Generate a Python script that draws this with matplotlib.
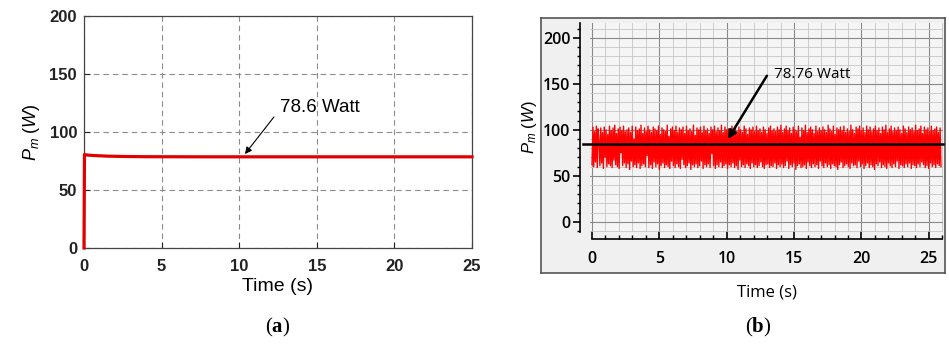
import numpy as np
import matplotlib.pyplot as plt
from matplotlib.ticker import MultipleLocator

plt.rcParams['font.family'] = ['Liberation Sans', 'DejaVu Sans']
plt.rcParams['mathtext.fontset'] = 'custom'
plt.rcParams['mathtext.rm'] = 'Liberation Sans'
plt.rcParams['mathtext.it'] = 'Liberation Sans:italic'
plt.rcParams['mathtext.bf'] = 'Liberation Serif:bold'

# (a) simulated mechanical power
time_a = [0, 0.03, 0.08, 0.3, 0.8, 1.5, 2.5, 4, 8, 15, 25]
power_a = [0, 80.6, 80.4, 80.0, 79.6, 79.2, 78.9, 78.7, 78.6, 78.6, 78.6]

power_b = [
    62, 103, 60, 98, 65, 104, 59, 101, 88, 61, 102, 64, 97, 58, 103, 70, 100, 60, 95, 63,
    104, 61, 99, 59, 102, 67, 105, 62, 96, 60, 101, 58, 103, 75, 99, 61, 104, 64, 98, 59,
    100, 63, 102, 57, 97, 66, 104, 60, 90, 62, 103, 59, 99, 64, 101, 58, 105, 61, 96, 63,
    102, 60, 98, 72, 104, 59, 100, 62, 97, 58, 103, 65, 101, 60, 99, 63, 104, 57, 95, 61,
    102, 64, 100, 59, 98, 62, 105, 60, 93, 58, 101, 66, 103, 61, 99, 59, 104, 63, 97, 60,
    102, 58, 100, 68, 103, 62, 96, 59, 104, 61, 99, 64, 101, 57, 98, 62, 105, 60, 94, 63,
    102, 59, 100, 61, 103, 66, 97, 58, 104, 62, 99, 60, 101, 63, 96, 59, 103, 74, 100, 61,
    104, 58, 98, 62, 102, 60, 99, 65, 105, 59, 97, 61, 103, 63, 100, 58, 101, 62, 96, 60,
    104, 64, 99, 59, 102, 61, 98, 57, 103, 67, 100, 60, 97, 62, 104, 59, 101, 63, 95, 61,
    102, 58, 100, 64, 103, 60, 98, 62, 104, 59, 99, 61, 101, 65, 97, 60, 103, 58, 100, 62,
    96, 63, 102, 59, 104, 61, 99, 60, 101, 64, 98, 58, 103, 62, 100, 60, 105, 63, 97, 59,
    101, 61, 104, 66, 99, 58, 102, 62, 96, 60, 103, 64, 100, 57, 98, 61, 104, 63, 92, 59,
    102, 60, 99, 62, 105, 58, 97, 65, 101, 61, 103, 59, 100, 63, 96, 60, 104, 62, 98, 58,
    102, 66, 99, 61, 103, 59, 100, 64, 97, 60, 105, 62, 101, 58, 98, 63, 104, 61, 95, 60,
    102, 57, 100, 62, 103, 65, 99, 59, 104, 61, 97, 63, 101, 60, 98, 58, 105, 64, 100, 61,
    96, 62, 103, 59, 101, 66, 104, 60, 99, 63, 102, 58, 97, 61, 104, 64, 100, 59, 103, 62,
    98, 60, 101, 57, 104, 63, 99, 61, 102, 65, 96, 59, 103, 62, 100, 60, 105, 58, 97, 64,
    101, 61, 104, 59, 98, 63, 102, 60, 99, 66, 103, 58, 100, 62, 96, 61, 104, 59, 101, 63,
    97, 60, 103, 64, 100, 58, 102, 62, 98, 61, 105, 59, 99, 63, 101, 60, 104, 65, 96, 62,
    103, 59, 100, 61, 102, 58, 98, 64, 104, 60, 99, 62, 101, 59, 103, 63, 97, 61, 102, 60,
]
time_b = np.linspace(0, 25.9, len(power_b))
avg_b = 85

fig = plt.figure(figsize=(9.49, 3.52), dpi=100)

# ---------- panel (a) ----------
ax1 = fig.add_axes([84 / 949, 1 - 248 / 352, 388 / 949, 232 / 352])
ax1.plot(time_a, power_a, color='#e00000', lw=2.3, clip_on=False, zorder=5)
ax1.set_xlim(0, 25)
ax1.set_ylim(0, 200)
ax1.set_xticks([0, 5, 10, 15, 20, 25])
ax1.set_yticks([0, 50, 100, 150, 200])
ax1.grid(True, color='#8c8c8c', ls=(0, (5, 3.5)), lw=0.8)
ax1.tick_params(direction='in', length=4, labelsize=12, colors='#222222')
ax1.tick_params(axis='x', pad=8)
ax1.tick_params(axis='y', pad=5)
for lab in ax1.get_xticklabels() + ax1.get_yticklabels():
    lab.set_fontweight('bold')
for s in ax1.spines.values():
    s.set_color('#444444')
    s.set_linewidth(0.9)
ax1.set_xlabel('Time (s)', fontsize=14, labelpad=3)
ax1.set_ylabel(r'$P_m\ (W)$', fontsize=13, labelpad=5)
ax1.annotate('', xy=(10.37, 81), xytext=(12.24, 113),
             arrowprops=dict(arrowstyle='-|>', color='black', lw=0.8,
                             mutation_scale=10, shrinkA=0, shrinkB=0))
ax1.text(12.6, 121, '78.6 Watt', fontsize=13.5, va='center', ha='left')

# ---------- panel (b) ----------
frame = fig.add_axes([541 / 949, 1 - 273 / 352, 404 / 949, 255 / 352], zorder=0)
frame.set_facecolor('#f0f0f0')
frame.set_xticks([])
frame.set_yticks([])
for s in frame.spines.values():
    s.set_color('#555555')
    s.set_linewidth(1.2)

ax2 = fig.add_axes([590 / 949, 1 - 232 / 352, 353 / 949, 209 / 352], zorder=1)
ax2.set_facecolor('#f5f5f5')
ax2.plot(time_b, power_b, color='#ff0000', lw=1.0, zorder=3)
ax2.axhline(avg_b, xmin=-0.02, xmax=1.0, color='black', lw=1.8, zorder=4,
            clip_on=False)
ax2.set_xlim(-0.15, 26.05)
ax2.set_ylim(-11, 216)
ax2.xaxis.set_major_locator(MultipleLocator(5))
ax2.xaxis.set_minor_locator(MultipleLocator(1))
ax2.yaxis.set_major_locator(MultipleLocator(50))
ax2.yaxis.set_minor_locator(MultipleLocator(10))
ax2.grid(True, which='minor', color='#c6c6c6', lw=0.6)
ax2.grid(True, which='major', color='#8a8a8a', lw=0.8)
ax2.set_axisbelow(True)
for side in ['top', 'right']:
    ax2.spines[side].set_visible(False)
ax2.spines['left'].set_position(('outward', 7))
ax2.spines['bottom'].set_position(('outward', 5))
ax2.spines['bottom'].set_bounds(0, 26)
ax2.spines['left'].set_linewidth(1.2)
ax2.spines['bottom'].set_linewidth(1.2)
ax2.tick_params(axis='y', which='major', direction='out', length=5, width=1.2,
                labelsize=11.5, pad=2)
ax2.tick_params(axis='y', which='minor', direction='out', length=2, width=1)
ax2.tick_params(axis='x', which='major', direction='in', length=6, width=1.2,
                labelsize=11.5, pad=9)
ax2.tick_params(axis='x', which='minor', direction='in', length=3, width=1)
ax2.set_xticks([0, 5, 10, 15, 20, 25])
ax2.set_yticks([0, 50, 100, 150, 200])
for lab in ax2.get_xticklabels() + ax2.get_yticklabels():
    lab.set_fontfamily('Open Sans')
    lab.set_fontweight('semibold')
ax2.set_xlabel('Time (s)', fontsize=12, fontfamily='Open Sans', labelpad=12)
ax2.set_ylabel(r'$P_m\ (W)$', fontsize=12, labelpad=3)
ax2.annotate('', xy=(10.09, 90), xytext=(12.98, 158.7),
             arrowprops=dict(arrowstyle='-|>', color='black', lw=1.8,
                             mutation_scale=12, shrinkA=0, shrinkB=0))
ax2.text(13.5, 160, '78.76 Watt', fontsize=11, fontfamily='Open Sans',
         va='center', ha='left')

# captions
fig.text(278 / 949, 1 - 327 / 352, r'($\mathbf{a}$)', fontsize=15,
         fontfamily='Liberation Serif', ha='center', va='center')
fig.text(758 / 949, 1 - 327 / 352, r'($\mathbf{b}$)', fontsize=15,
         fontfamily='Liberation Serif', ha='center', va='center')

fig.savefig('out.png', dpi=100)
